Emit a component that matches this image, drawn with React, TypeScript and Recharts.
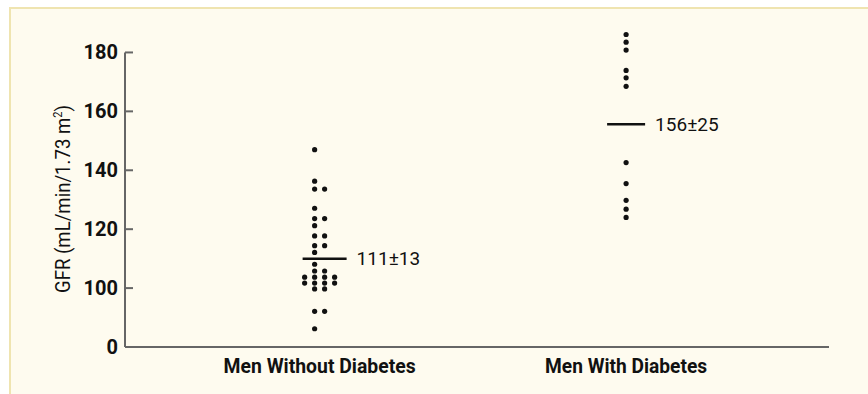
import React from 'react';
import { ScatterChart, Scatter, XAxis, YAxis, ReferenceLine } from 'recharts';

// Group labels along the x axis
const categories = ['Men Without Diabetes', 'Men With Diabetes'];

// GFR values (repeated values sit side by side)
const menWithoutDiabetes = [
  147.0, 136.3, 133.6, 133.6, 127.1, 123.6, 123.6, 121.2, 117.7, 117.7,
  114.4, 114.4, 112.1, 108.1, 105.8, 105.8, 103.7, 103.7, 103.7, 103.7,
  101.7, 101.7, 101.7, 101.7, 99.7, 99.7, 92.1, 92.1, 86.2,
];
const menWithDiabetes = [
  186.1, 183.5, 180.8, 173.9, 171.4, 168.5, 142.6, 135.5, 129.8, 126.8, 124.0,
];

// Mean bars and their annotations
const meanValues = [110.0, 155.6];
const meanLabels = ['111±13', '156±25'];

// Broken axis: the bottom tick stands for 0
const yTicks = [80, 100, 120, 140, 160, 180];
const yTickLabels = ['0', '100', '120', '140', '160', '180'];

const AXIS_COLOR = '#666666';
const INK = '#111111';
const COL_STEP = 0.0326; // one dot width in x units
const colShift = [-0.5, 0];
const meanShift = [0.5, 0];
const meanHalfWidth = [22, 19];
const labelLengths = [192, 162];

function toPoints(values: number[], group: number) {
  const counts = new Map<number, number>();
  values.forEach((v) => counts.set(v, (counts.get(v) || 0) + 1));
  const seen = new Map<number, number>();
  return values.map((v) => {
    const n = counts.get(v) as number;
    const i = seen.get(v) || 0;
    seen.set(v, i + 1);
    const col = i - Math.floor((n - 1) / 2) + colShift[group];
    return { x: group + col * COL_STEP, y: v };
  });
}

const groups = [menWithoutDiabetes, menWithDiabetes].map((vals, g) => toPoints(vals, g));
const means = meanValues.map((m, g) => [
  { x: g + meanShift[g] * COL_STEP, y: m, label: meanLabels[g], half: meanHalfWidth[g] },
]);

const Dot = (props: any) => <circle cx={props.cx} cy={props.cy} r={2.6} fill={INK} />;

const MeanMark = (props: any) => {
  const { cx, cy, payload } = props;
  return (
    <g>
      <line x1={cx - payload.half} x2={cx + payload.half} y1={cy} y2={cy} stroke={INK} strokeWidth={2.5} />
      <text x={cx + payload.half + 10} y={cy} dy="0.35em" fontSize={19} fill={INK}>
        {payload.label}
      </text>
    </g>
  );
};

const YTick = (props: any) => {
  const { x, y, payload } = props;
  const idx = yTicks.indexOf(payload.value);
  return (
    <g>
      <line x1={x + 7} x2={x + 15} y1={y} y2={y} stroke={AXIS_COLOR} strokeWidth={2} />
      <text x={x} y={y} dy="0.35em" textAnchor="end" fontSize={20} fontWeight={700} fill={INK}>
        {yTickLabels[idx]}
      </text>
    </g>
  );
};

const XTick = (props: any) => {
  const { x, y, payload } = props;
  const idx = Math.round(payload.value);
  return (
    <text
      x={x}
      y={y + 26}
      textAnchor="middle"
      fontSize={20}
      fontWeight={700}
      fill={INK}
      textLength={labelLengths[idx]}
      lengthAdjust="spacingAndGlyphs"
    >
      {categories[idx]}
    </text>
  );
};

const YTitle = (props: any) => {
  const vb = props.viewBox || { x: 65 };
  const x = vb.x + 5;
  const y = 199;
  return (
    <text
      x={x}
      y={y}
      transform={`rotate(-90 ${x} ${y})`}
      textAnchor="middle"
      fontSize={20}
      fill={INK}
      textLength={188}
      lengthAdjust="spacingAndGlyphs"
    >
      GFR (mL/min/1.73 m
      <tspan fontSize={12} dy={-8}>2</tspan>
      <tspan dy={8}>)</tspan>
    </text>
  );
};

export default function App() {
  return (
    <div style={{ position: 'absolute', left: 0, top: 0, width: 868, height: 394, background: '#ffffff' }}>
      <div
        style={{
          position: 'absolute',
          left: 9,
          top: 7,
          right: 0,
          bottom: 0,
          background: '#FEFBEF',
          borderTop: '2px solid #EFE4B0',
          borderLeft: '2px solid #EFE4B0',
        }}
      />
      <div style={{ position: 'absolute', left: 0, top: 0 }}>
        <ScatterChart
          width={868}
          height={394}
          margin={{ top: 23, right: 39, bottom: 17, left: 65 }}
          style={{ fontFamily: 'Roboto, "Liberation Sans", sans-serif' }}
        >
          <XAxis
            type="number"
            dataKey="x"
            domain={[-0.635, 1.662]}
            ticks={[0, 1]}
            interval={0}
            tickLine={false}
            tickSize={0}
            tickMargin={0}
            height={30}
            axisLine={{ stroke: AXIS_COLOR, strokeWidth: 2 }}
            tick={<XTick />}
          />
          <YAxis
            type="number"
            dataKey="y"
            domain={[80, 190]}
            ticks={yTicks}
            interval={0}
            axisLine={false}
            tickLine={false}
            tickSize={0}
            tickMargin={7}
            width={60}
            tick={<YTick />}
            label={<YTitle />}
          />
          <ReferenceLine
            segment={[
              { x: -0.635, y: 80 },
              { x: -0.635, y: 180 },
            ]}
            stroke={AXIS_COLOR}
            strokeWidth={2}
            ifOverflow="visible"
          />
          {groups.map((pts, g) => (
            <Scatter key={categories[g]} data={pts} shape={<Dot />} isAnimationActive={false} />
          ))}
          {means.map((m, g) => (
            <Scatter key={meanLabels[g]} data={m} shape={<MeanMark />} isAnimationActive={false} />
          ))}
        </ScatterChart>
      </div>
    </div>
  );
}
